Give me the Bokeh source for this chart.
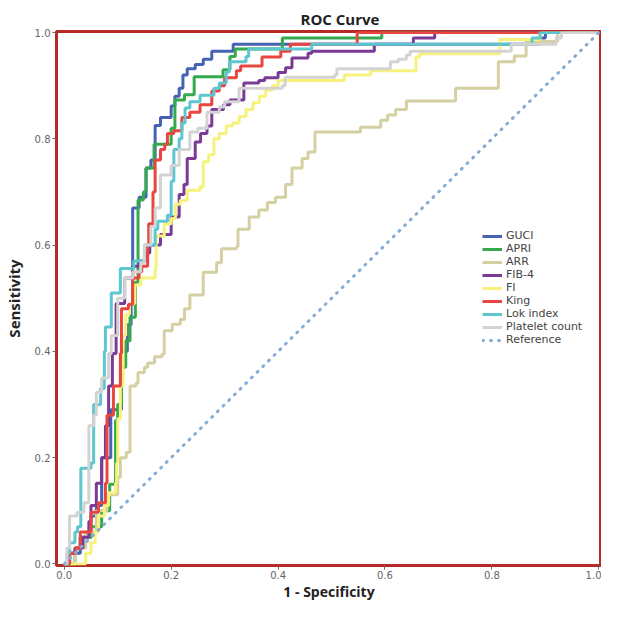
from bokeh.plotting import figure
from bokeh.embed import file_html
from bokeh.resources import INLINE
from bokeh.models import Legend, LegendItem, FixedTicker, PrintfTickFormatter

# ---- data (step vertices: move right to x, then up to y) ----
series_names = ["GUCI", "APRI", "ARR", "FIB-4", "FI", "King", "Lok index", "Platelet count"]

guci_x = [0, 0.01, 0.03, 0.05, 0.06, 0.07, 0.087, 0.107, 0.118, 0.125, 0.128, 0.14, 0.153, 0.162, 0.17, 0.18, 0.2, 0.207, 0.215, 0.222, 0.23, 0.245, 0.26, 0.276, 0.316, 0.89, 0.9, 1.0]
guci_y = [0, 0.02, 0.05, 0.09, 0.11, 0.2, 0.29, 0.40, 0.45, 0.49, 0.67, 0.69, 0.745, 0.76, 0.825, 0.84, 0.862, 0.88, 0.895, 0.92, 0.932, 0.94, 0.95, 0.965, 0.978, 0.99, 1.0, 1.0]

apri_x = [0, 0.02, 0.03, 0.05, 0.07, 0.085, 0.096, 0.1, 0.107, 0.115, 0.123, 0.133, 0.138, 0.148, 0.153, 0.168, 0.2, 0.207, 0.225, 0.243, 0.297, 0.31, 0.32, 0.408, 0.594, 1.0]
apri_y = [0, 0.03, 0.05, 0.07, 0.1, 0.15, 0.27, 0.30, 0.37, 0.42, 0.464, 0.53, 0.685, 0.70, 0.745, 0.79, 0.82, 0.873, 0.883, 0.917, 0.93, 0.955, 0.969, 0.99, 1.0, 1.0]

arr_x = [0, 0.02, 0.04, 0.06, 0.08, 0.1, 0.105, 0.116, 0.123, 0.134, 0.138, 0.15, 0.156, 0.169, 0.183, 0.187, 0.202, 0.217, 0.225, 0.235, 0.26, 0.285, 0.294, 0.322, 0.325, 0.346, 0.364, 0.38, 0.395, 0.414, 0.426, 0.445, 0.456, 0.469, 0.554, 0.592, 0.605, 0.62, 0.64, 0.732, 0.812, 0.842, 0.864, 0.923, 1.0]
arr_y = [0, 0.03, 0.06, 0.1, 0.13, 0.163, 0.2, 0.21, 0.335, 0.34, 0.36, 0.37, 0.378, 0.39, 0.395, 0.439, 0.451, 0.46, 0.48, 0.506, 0.549, 0.567, 0.593, 0.597, 0.63, 0.653, 0.666, 0.68, 0.69, 0.714, 0.745, 0.763, 0.775, 0.813, 0.822, 0.835, 0.845, 0.855, 0.871, 0.895, 0.945, 0.956, 0.983, 1.0, 1.0]

fib4_x = [0, 0.01, 0.02, 0.035, 0.046, 0.05, 0.06, 0.07, 0.077, 0.083, 0.09, 0.097, 0.113, 0.128, 0.14, 0.153, 0.16, 0.18, 0.2, 0.215, 0.224, 0.23, 0.245, 0.255, 0.267, 0.276, 0.298, 0.31, 0.336, 0.364, 0.375, 0.4, 0.414, 0.426, 0.456, 0.463, 0.58, 0.653, 0.693, 1.0]
fib4_y = [0, 0.02, 0.03, 0.05, 0.08, 0.11, 0.152, 0.2, 0.26, 0.335, 0.396, 0.49, 0.538, 0.56, 0.57, 0.585, 0.6, 0.62, 0.653, 0.695, 0.714, 0.763, 0.794, 0.81, 0.824, 0.855, 0.864, 0.873, 0.905, 0.91, 0.915, 0.925, 0.934, 0.952, 0.961, 0.965, 0.978, 0.99, 1.0, 1.0]

fi_x = [0, 0.04, 0.05, 0.058, 0.064, 0.075, 0.083, 0.096, 0.098, 0.1, 0.105, 0.11, 0.115, 0.122, 0.132, 0.143, 0.17, 0.172, 0.187, 0.2, 0.208, 0.217, 0.23, 0.254, 0.26, 0.27, 0.28, 0.29, 0.303, 0.315, 0.327, 0.34, 0.353, 0.365, 0.377, 0.39, 0.4, 0.524, 0.573, 0.658, 0.665, 0.815, 0.89, 1.0]
fi_y = [0, 0.02, 0.04, 0.06, 0.09, 0.11, 0.134, 0.152, 0.19, 0.273, 0.335, 0.43, 0.47, 0.49, 0.525, 0.538, 0.556, 0.617, 0.64, 0.65, 0.677, 0.684, 0.703, 0.71, 0.757, 0.77, 0.8, 0.81, 0.824, 0.83, 0.842, 0.855, 0.868, 0.88, 0.892, 0.9, 0.91, 0.92, 0.928, 0.954, 0.96, 0.987, 1.0, 1.0]

king_x = [0, 0.01, 0.022, 0.03, 0.05, 0.064, 0.077, 0.08, 0.092, 0.105, 0.107, 0.12, 0.128, 0.14, 0.145, 0.156, 0.158, 0.166, 0.17, 0.18, 0.188, 0.193, 0.205, 0.22, 0.235, 0.254, 0.276, 0.29, 0.3, 0.322, 0.33, 0.37, 0.405, 0.423, 0.548, 1.0]
king_y = [0, 0.02, 0.03, 0.06, 0.097, 0.115, 0.152, 0.28, 0.335, 0.396, 0.48, 0.488, 0.538, 0.55, 0.56, 0.6, 0.64, 0.7, 0.76, 0.78, 0.79, 0.81, 0.815, 0.84, 0.85, 0.864, 0.89, 0.9, 0.915, 0.928, 0.937, 0.954, 0.965, 0.978, 1.0, 1.0]

lok_x = [0, 0.005, 0.01, 0.02, 0.025, 0.031, 0.05, 0.055, 0.068, 0.075, 0.077, 0.088, 0.105, 0.13, 0.15, 0.17, 0.175, 0.193, 0.2, 0.205, 0.215, 0.22, 0.226, 0.235, 0.254, 0.28, 0.29, 0.303, 0.309, 0.34, 0.345, 0.463, 0.875, 0.89, 1.0]
lok_y = [0, 0.02, 0.04, 0.06, 0.07, 0.18, 0.19, 0.3, 0.33, 0.4, 0.446, 0.51, 0.556, 0.57, 0.6, 0.63, 0.645, 0.656, 0.72, 0.78, 0.8, 0.83, 0.858, 0.87, 0.882, 0.895, 0.905, 0.926, 0.945, 0.955, 0.969, 0.978, 0.99, 1.0, 1.0]

plt_x = [0, 0.005, 0.01, 0.024, 0.037, 0.046, 0.055, 0.06, 0.07, 0.083, 0.088, 0.1, 0.113, 0.128, 0.143, 0.15, 0.162, 0.17, 0.18, 0.2, 0.215, 0.235, 0.25, 0.267, 0.29, 0.3, 0.327, 0.408, 0.413, 0.506, 0.51, 0.61, 0.625, 0.64, 0.647, 0.836, 0.92, 0.93, 1.0]
plt_y = [0, 0.03, 0.09, 0.097, 0.115, 0.26, 0.28, 0.323, 0.35, 0.396, 0.43, 0.5, 0.538, 0.55, 0.567, 0.6, 0.635, 0.67, 0.732, 0.75, 0.78, 0.813, 0.82, 0.85, 0.86, 0.87, 0.895, 0.9, 0.916, 0.92, 0.932, 0.945, 0.95, 0.958, 0.965, 0.978, 0.99, 1.0, 1.0]

ref_x = [0.0, 1.0]
ref_y = [0.0, 1.0]

x_ticks = [0.0, 0.2, 0.4, 0.6, 0.8, 1.0]
y_ticks = [0.0, 0.2, 0.4, 0.6, 0.8, 1.0]

colors = ["#4662b2", "#35a94e", "#d5d0a2", "#7a3b97", "#f6f27c", "#e8463f", "#5ec6cf", "#d3d3d3"]
ref_color = "#86acd6"

FONT = "Open Sans"

p = figure(width=601, height=603, output_backend="svg", toolbar_location=None,
           x_range=(-0.0145, 1.005), y_range=(-0.003, 1.002),
           min_border_left=49, min_border_right=0, min_border_top=31, min_border_bottom=37)

p.title.text = "ROC Curve"
p.title.align = "left"
p.title.offset = 244
p.title.text_font = FONT
p.title.text_font_style = "bold"
p.title.text_font_size = "15px"
p.title.text_color = "#222222"
p.title.standoff = 5

p.grid.visible = False
p.background_fill_color = "white"
p.border_fill_color = "white"
p.outline_line_color = "#b52a27"
p.outline_line_width = 3

for ax in (p.xaxis, p.yaxis):
    ax.axis_line_color = None
    ax.major_tick_line_color = "#666666"
    ax.major_tick_out = 4
    ax.major_tick_in = 0
    ax.minor_tick_line_color = None
    ax.major_label_text_font = "DejaVu Sans"
    ax.major_label_text_font_size = "10px"
    ax.major_label_text_color = "#666666"
    ax.major_label_standoff = 1
    ax.axis_label_text_font = FONT
    ax.axis_label_text_font_style = "bold"
    ax.axis_label_text_font_size = "14px"
    ax.axis_label_text_color = "#222222"
    ax.axis_label_standoff = 0
    ax.formatter = PrintfTickFormatter(format="%.1f")

p.yaxis.major_label_standoff = 2
p.yaxis.axis_label_text_font_size = "15px"
p.yaxis.axis_label_standoff = 8
p.xaxis.ticker = FixedTicker(ticks=x_ticks)
p.yaxis.ticker = FixedTicker(ticks=y_ticks)
p.xaxis.axis_label = "1 - Specificity"
p.yaxis.axis_label = "Sensitivity"

xs = [guci_x, apri_x, arr_x, fib4_x, fi_x, king_x, lok_x, plt_x]
ys = [guci_y, apri_y, arr_y, fib4_y, fi_y, king_y, lok_y, plt_y]

items = []
for name, x, y, c in zip(series_names, xs, ys, colors):
    r = p.step(x, y, mode="after", line_color=c, line_width=3)
    items.append(LegendItem(label=name, renderers=[r]))

rr = p.line(ref_x, ref_y, line_color=ref_color, line_width=3, line_dash="1 7", line_cap="round")
items.append(LegendItem(label="Reference", renderers=[rr]))

legend = Legend(items=items, location=(426, 219), padding=0, margin=0,
                background_fill_alpha=0, border_line_color=None,
                label_text_font="DejaVu Sans", label_text_font_size="11px",
                label_text_color="#444444", glyph_width=20, glyph_height=12,
                label_height=12, spacing=0, label_standoff=4)
p.add_layout(legend, "center")

open("out.html", "w").write(file_html(p, INLINE))
